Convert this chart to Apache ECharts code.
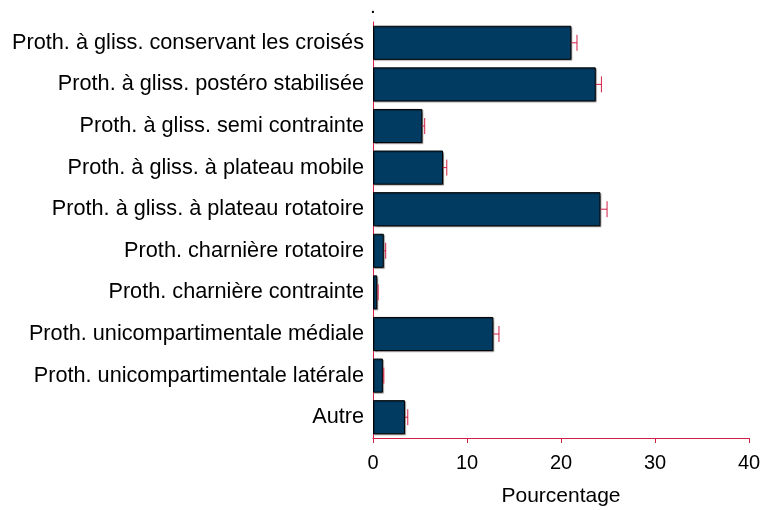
<!DOCTYPE html>
<html>
<head>
<meta charset="utf-8">
<script src="https://cdn.jsdelivr.net/npm/echarts@6/dist/echarts.min.js"></script>
<style>
  html, body { margin: 0; padding: 0; background: #fff; }
  #chart { width: 763px; height: 510px; }
</style>
</head>
<body>
<div id="chart"></div>
<script>
// categories (top to bottom)
var categories = [
  'Proth. à gliss. conservant les croisés',
  'Proth. à gliss. postéro stabilisée',
  'Proth. à gliss. semi contrainte',
  'Proth. à gliss. à plateau mobile',
  'Proth. à gliss. à plateau rotatoire',
  'Proth. charnière rotatoire',
  'Proth. charnière contrainte',
  'Proth. unicompartimentale médiale',
  'Proth. unicompartimentale latérale',
  'Autre'
];
// percentages
var values = [21.1, 23.7, 5.25, 7.45, 24.2, 1.15, 0.45, 12.8, 1.05, 3.4];
// upper end of error bars
var upper = [21.7, 24.3, 5.5, 7.85, 24.9, 1.35, 0.55, 13.4, 1.15, 3.7];
var xTicks = [0, 10, 20, 30, 40];

var red = '#d21f45';
var font = 'Liberation Sans, Arial';

var chart = echarts.init(document.getElementById('chart'));

var errData = [];
for (var i = 0; i < categories.length; i++) {
  errData.push([i, values[i], upper[i]]);
}

var option = {
  animation: false,
  title: {
    text: '.',
    left: 365,
    top: -8,
    textStyle: { fontSize: 21, fontWeight: 'normal', color: '#000', fontFamily: font }
  },
  grid: { left: 373, right: 14, top: 22, bottom: 72, containLabel: false, outerBoundsMode: 'none' },
  xAxis: {
    type: 'value',
    min: xTicks[0],
    max: xTicks[xTicks.length - 1],
    interval: 10,
    name: 'Pourcentage',
    nameLocation: 'middle',
    nameGap: 48,
    nameTextStyle: { fontSize: 21, color: '#000', fontFamily: font, verticalAlign: 'top' },
    axisLine: { show: true, lineStyle: { color: red, width: 1 } },
    axisTick: { show: true, length: 5, lineStyle: { color: red } },
    axisLabel: { fontSize: 20, color: '#000', margin: 15, fontFamily: font },
    splitLine: { show: false }
  },
  yAxis: {
    type: 'category',
    data: categories,
    inverse: true,
    axisLine: { show: true, lineStyle: { color: red, width: 1 } },
    axisTick: { show: false },
    axisLabel: { fontSize: 21.7, color: '#000', margin: 9, fontFamily: font }
  },
  series: [
    {
      type: 'bar',
      data: values,
      barWidth: '82%',
      itemStyle: {
        color: '#023b61',
        borderColor: '#000',
        borderWidth: 1,
        shadowColor: 'rgba(0,0,0,0.35)',
        shadowOffsetX: 1,
        shadowOffsetY: 1,
        shadowBlur: 1
      },
      z: 2
    },
    {
      type: 'custom',
      data: errData,
      encode: { y: 0, x: [1, 2] },
      renderItem: function (params, api) {
        var cat = api.value(0);
        var start = api.coord([api.value(1), cat]);
        var end = api.coord([api.value(2), cat]);
        var h = 8;
        return {
          type: 'group',
          children: [
            { type: 'line', shape: { x1: start[0], y1: start[1], x2: end[0], y2: end[1] }, style: { stroke: red, lineWidth: 1 } },
            { type: 'line', shape: { x1: end[0], y1: end[1] - h, x2: end[0], y2: end[1] + h }, style: { stroke: red, lineWidth: 1 } }
          ]
        };
      },
      z: 3
    }
  ]
};

chart.setOption(option);
</script>
</body>
</html>
